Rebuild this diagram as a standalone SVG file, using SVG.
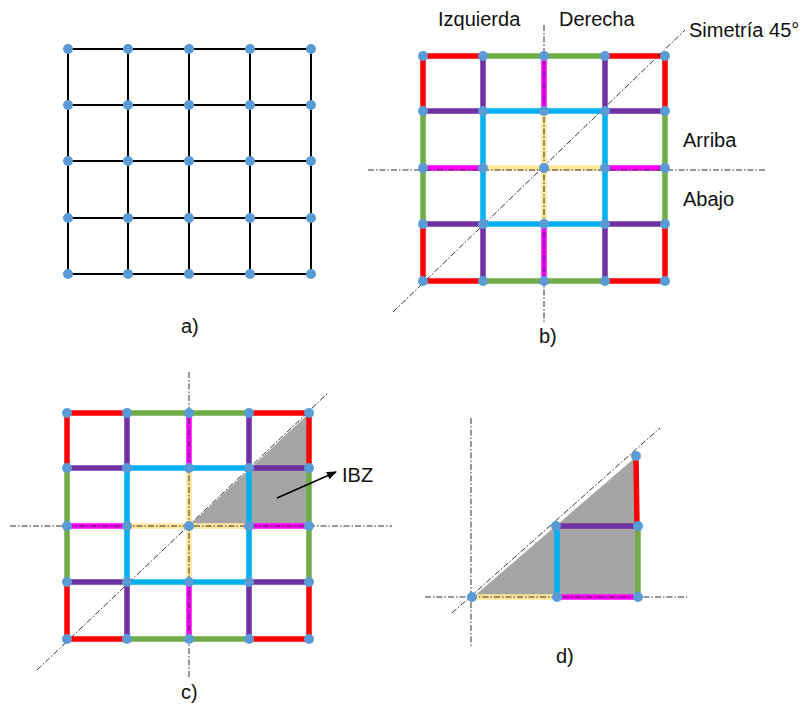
<svg xmlns="http://www.w3.org/2000/svg" width="804" height="713" viewBox="0 0 804 713">
<defs>
<style>
.lbl{font-family:"Liberation Sans",Arial,sans-serif;font-size:20px;fill:#111}
.grid{fill:none;stroke:#000;stroke-width:2}
.e{fill:none;stroke-width:5.5;stroke-linecap:square}
.red{stroke:#FF0000}.grn{stroke:#70AD47}.pur{stroke:#7030A0}.blu{stroke:#00B0F0}.mag{stroke:#FF00FF}.yel{stroke:#FFE699}
.ax{fill:none;stroke:#333;stroke-width:1;stroke-dasharray:6 2 1.5 2}
.gray{fill:#A5A5A5}
.n{fill:#5B9BD5}
</style>
<marker id="ah" markerWidth="10" markerHeight="8" refX="9" refY="4" orient="auto" markerUnits="userSpaceOnUse">
<path d="M0 0L10 4L0 8Z" fill="#000"/>
</marker>
</defs>
<rect width="804" height="713" fill="#fff"/>

<g id="panel-a">
<g id="a-edges">
<path class="grid" d="M68 49H311M68 105H311M68 161H311M68 218H311M68 274H311M68 49V274M128 49V274M189 49V274M250 49V274M311 49V274"/>
</g>
<g id="a-nodes">
<circle class="n" cx="68" cy="49" r="5"/><circle class="n" cx="128" cy="49" r="5"/><circle class="n" cx="189" cy="49" r="5"/><circle class="n" cx="250" cy="49" r="5"/><circle class="n" cx="311" cy="49" r="5"/>
<circle class="n" cx="68" cy="105" r="5"/><circle class="n" cx="128" cy="105" r="5"/><circle class="n" cx="189" cy="105" r="5"/><circle class="n" cx="250" cy="105" r="5"/><circle class="n" cx="311" cy="105" r="5"/>
<circle class="n" cx="68" cy="161" r="5"/><circle class="n" cx="128" cy="161" r="5"/><circle class="n" cx="189" cy="161" r="5"/><circle class="n" cx="250" cy="161" r="5"/><circle class="n" cx="311" cy="161" r="5"/>
<circle class="n" cx="68" cy="218" r="5"/><circle class="n" cx="128" cy="218" r="5"/><circle class="n" cx="189" cy="218" r="5"/><circle class="n" cx="250" cy="218" r="5"/><circle class="n" cx="311" cy="218" r="5"/>
<circle class="n" cx="68" cy="274" r="5"/><circle class="n" cx="128" cy="274" r="5"/><circle class="n" cx="189" cy="274" r="5"/><circle class="n" cx="250" cy="274" r="5"/><circle class="n" cx="311" cy="274" r="5"/>
</g>
<text class="lbl" x="181" y="333">a)</text>
</g>

<g id="panel-b">
<g id="b-edges">
<path class="e red" d="M423 111V56H483M605 56H665V111M423 224V281H483M605 281H665V224"/>
<path class="e grn" d="M483 56H605M483 281H605M423 111V224M665 111V224"/>
<path class="e pur" d="M423 111H483M605 111H665M423 224H483M605 224H665M483 56V111M483 224V281M605 56V111M605 224V281"/>
<path class="e blu" d="M483 111H605V224H483Z"/>
<path class="e mag" d="M423 168H483M605 168H665M544 56V111M544 224V281"/>
<path class="e yel" d="M483 168H605M544 111V224"/>
</g>
<g id="b-axes">
<path class="ax" d="M544 25V322M368 170H765M393 312L685 30"/>
</g>
<g id="b-nodes">
<circle class="n" cx="423" cy="56" r="5"/><circle class="n" cx="483" cy="56" r="5"/><circle class="n" cx="544" cy="56" r="5"/><circle class="n" cx="605" cy="56" r="5"/><circle class="n" cx="665" cy="56" r="5"/>
<circle class="n" cx="423" cy="111" r="5"/><circle class="n" cx="483" cy="111" r="5"/><circle class="n" cx="544" cy="111" r="5"/><circle class="n" cx="605" cy="111" r="5"/><circle class="n" cx="665" cy="111" r="5"/>
<circle class="n" cx="423" cy="168" r="5"/><circle class="n" cx="483" cy="168" r="5"/><circle class="n" cx="544" cy="168" r="5"/><circle class="n" cx="605" cy="168" r="5"/><circle class="n" cx="665" cy="168" r="5"/>
<circle class="n" cx="423" cy="224" r="5"/><circle class="n" cx="483" cy="224" r="5"/><circle class="n" cx="544" cy="224" r="5"/><circle class="n" cx="605" cy="224" r="5"/><circle class="n" cx="665" cy="224" r="5"/>
<circle class="n" cx="423" cy="281" r="5"/><circle class="n" cx="483" cy="281" r="5"/><circle class="n" cx="544" cy="281" r="5"/><circle class="n" cx="605" cy="281" r="5"/><circle class="n" cx="665" cy="281" r="5"/>
</g>
<text class="lbl" x="438" y="26">Izquierda</text>
<text class="lbl" x="559" y="26">Derecha</text>
<text class="lbl" x="689" y="37">Simetría 45°</text>
<text class="lbl" x="683" y="147">Arriba</text>
<text class="lbl" x="683" y="206">Abajo</text>
<text class="lbl" x="539" y="343">b)</text>
</g>

<g id="panel-c">
<polygon id="c-ibz" class="gray" points="189,526 309,526 309,413"/>
<g id="c-edges">
<path class="e red" d="M67 468V413H127M249 413H309V468M67 582V639H127M249 639H309V582"/>
<path class="e grn" d="M127 413H249M127 639H249M67 468V582M309 468V582"/>
<path class="e pur" d="M67 468H127M249 468H309M67 582H127M249 582H309M127 413V468M127 582V639M249 413V468M249 582V639"/>
<path class="e blu" d="M127 468H249V582H127Z"/>
<path class="e mag" d="M67 526H127M249 526H309M189 413V468M189 582V639"/>
<path class="e yel" d="M127 526H249M189 468V582"/>
</g>
<g id="c-axes">
<path class="ax" d="M189 372V677M10 526H392M37 670L328 393"/>
</g>
<g id="c-nodes">
<circle class="n" cx="67" cy="413" r="5"/><circle class="n" cx="127" cy="413" r="5"/><circle class="n" cx="189" cy="413" r="5"/><circle class="n" cx="249" cy="413" r="5"/><circle class="n" cx="309" cy="413" r="5"/>
<circle class="n" cx="67" cy="468" r="5"/><circle class="n" cx="127" cy="468" r="5"/><circle class="n" cx="189" cy="468" r="5"/><circle class="n" cx="249" cy="468" r="5"/><circle class="n" cx="309" cy="468" r="5"/>
<circle class="n" cx="67" cy="526" r="5"/><circle class="n" cx="127" cy="526" r="5"/><circle class="n" cx="189" cy="526" r="5"/><circle class="n" cx="249" cy="526" r="5"/><circle class="n" cx="309" cy="526" r="5"/>
<circle class="n" cx="67" cy="582" r="5"/><circle class="n" cx="127" cy="582" r="5"/><circle class="n" cx="189" cy="582" r="5"/><circle class="n" cx="249" cy="582" r="5"/><circle class="n" cx="309" cy="582" r="5"/>
<circle class="n" cx="67" cy="639" r="5"/><circle class="n" cx="127" cy="639" r="5"/><circle class="n" cx="189" cy="639" r="5"/><circle class="n" cx="249" cy="639" r="5"/><circle class="n" cx="309" cy="639" r="5"/>
</g>
<g id="c-arrow">
<line x1="277" y1="498" x2="336" y2="472" stroke="#000" stroke-width="1.5" marker-end="url(#ah)"/>
</g>
<text class="lbl" x="342" y="482">IBZ</text>
<text class="lbl" x="181" y="699">c)</text>
</g>

<g id="panel-d">
<polygon id="d-ibz" class="gray" points="473,597 637,597 637,456"/>
<g id="d-edges">
<path class="e yel" d="M472 597H557"/>
<path class="e mag" d="M557 597H638"/>
<path class="e blu" d="M557 526V597"/>
<path class="e pur" d="M557 526H638"/>
<path class="e grn" d="M638 526V597"/>
<path class="e red" d="M636 456L637 526"/>
</g>
<g id="d-axes">
<path class="ax" d="M471 418V647M425 597H687M452 613L660 428"/>
</g>
<g id="d-nodes">
<circle class="n" cx="472" cy="597" r="5"/><circle class="n" cx="557" cy="597" r="5"/><circle class="n" cx="638" cy="597" r="5"/>
<circle class="n" cx="556" cy="526" r="5"/><circle class="n" cx="638" cy="526" r="5"/><circle class="n" cx="636" cy="456" r="5"/>
</g>
<text class="lbl" x="556" y="663">d)</text>
</g>
</svg>
